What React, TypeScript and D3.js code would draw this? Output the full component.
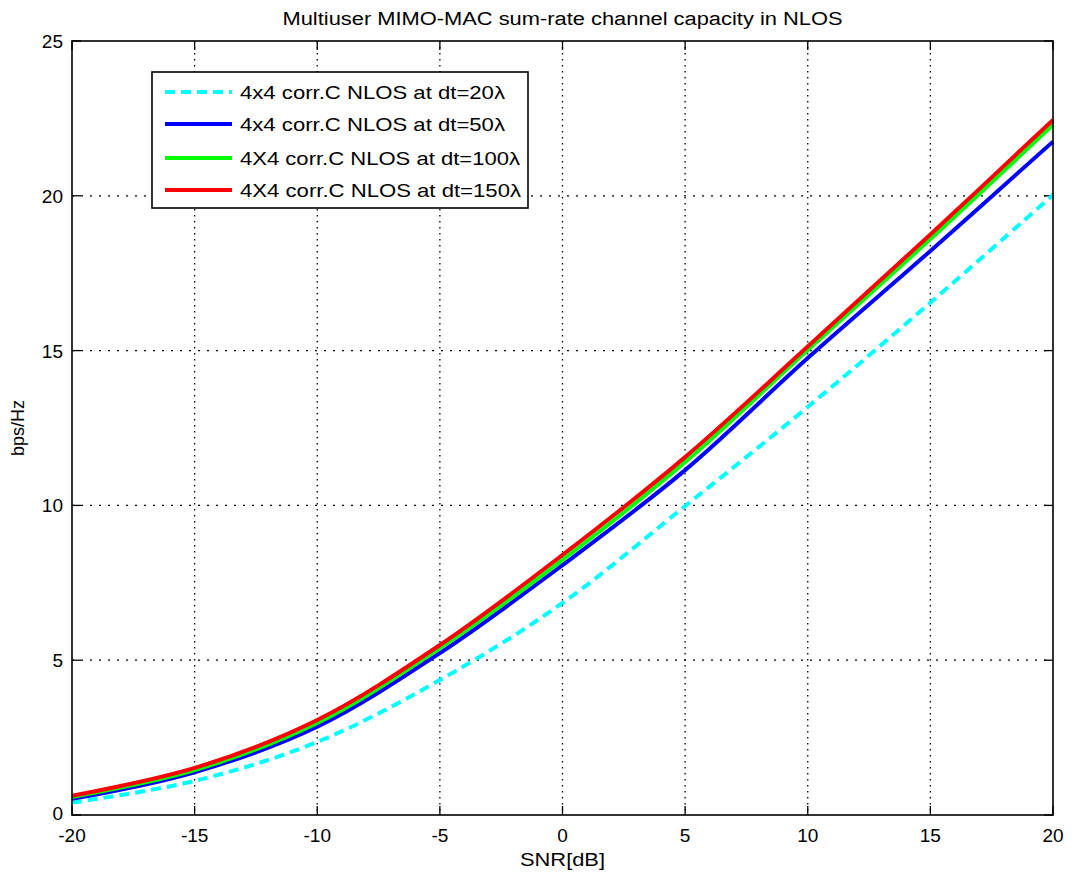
import React from "react";
import * as d3 from "d3";

// SNR sample points (dB)
const snr = [-20, -15, -10, -5, 0, 5, 10, 15, 20];

// Sum-rate capacity (bps/Hz) per inter-user spacing
const cap20 = [0.4, 1.1, 2.36, 4.36, 6.85, 9.98, 13.18, 16.55, 20.03];
const cap50 = [0.52, 1.38, 2.85, 5.23, 8.07, 11.14, 14.76, 18.22, 21.75];
const cap100 = [0.58, 1.45, 2.97, 5.39, 8.24, 11.4, 15.02, 18.6, 22.29];
const cap150 = [0.62, 1.52, 3.07, 5.49, 8.4, 11.56, 15.13, 18.75, 22.45];

const seriesLabels = [
  "4x4 corr.C NLOS at dt=20λ",
  "4x4 corr.C NLOS at dt=50λ",
  "4X4 corr.C NLOS at dt=100λ",
  "4X4 corr.C NLOS at dt=150λ",
];
const labelWidths = [265, 265, 280, 281];
const seriesColors = ["#00ffff", "#0000ff", "#00ff00", "#ff0000"];
const seriesDash = ["10,6", null, null, null];

const xTicks = [-20, -15, -10, -5, 0, 5, 10, 15, 20];
const yTicks = [0, 5, 10, 15, 20, 25];

const W = 1073;
const H = 877;
const M = { left: 72, right: 1053, top: 41, bottom: 815 };

export default function App() {
  const x = d3.scaleLinear().domain([-20, 20]).range([M.left, M.right]);
  const y = d3.scaleLinear().domain([0, 25]).range([M.bottom, M.top]);
  const line = d3
    .line<[number, number]>()
    .x((d) => x(d[0]))
    .y((d) => y(d[1]))
    .curve(d3.curveCatmullRom.alpha(0.5));

  const series = [cap20, cap50, cap100, cap150];
  const font = "'Liberation Sans', Arial, sans-serif";
  const tickLen = 9;

  const legX = 152;
  const legY = 72;
  const legW = 376;
  const legH = 136;
  const rowGap = 32;

  return (
    <svg
      width={W}
      height={H}
      style={{ position: "absolute", left: 0, top: 0, background: "#fff" }}
      fontFamily={font}
    >
      <rect x={0} y={0} width={W} height={H} fill="#fff" />
      {/* dotted grid */}
      <g stroke="#000" strokeWidth={1.3}>
        {xTicks.slice(1, -1).map((t) => (
          <line key={"gx" + t} x1={x(t)} x2={x(t)} y1={M.top} y2={M.bottom} strokeDasharray="1.5,4.5" />
        ))}
        {yTicks.slice(1, -1).map((t) => (
          <line key={"gy" + t} x1={M.left} x2={M.right} y1={y(t)} y2={y(t)} strokeDasharray="2,7" />
        ))}
      </g>
      {/* inward ticks on all sides */}
      <g stroke="#000" strokeWidth={1.3}>
        {xTicks.map((t) => (
          <g key={"tx" + t}>
            <line x1={x(t)} x2={x(t)} y1={M.bottom} y2={M.bottom - tickLen} />
            <line x1={x(t)} x2={x(t)} y1={M.top} y2={M.top + tickLen} />
          </g>
        ))}
        {yTicks.map((t) => (
          <g key={"ty" + t}>
            <line x1={M.left} x2={M.left + tickLen} y1={y(t)} y2={y(t)} />
            <line x1={M.right} x2={M.right - tickLen} y1={y(t)} y2={y(t)} />
          </g>
        ))}
      </g>
      {/* curves */}
      {series.map((vals, i) => (
        <path
          key={"s" + i}
          d={line(snr.map((s, j) => [s, vals[j]] as [number, number])) || ""}
          fill="none"
          stroke={seriesColors[i]}
          strokeWidth={4}
          strokeDasharray={seriesDash[i] || undefined}
        />
      ))}
      {/* frame */}
      <rect
        x={M.left}
        y={M.top}
        width={M.right - M.left}
        height={M.bottom - M.top}
        fill="none"
        stroke="#000"
        strokeWidth={1.6}
      />
      {/* tick labels */}
      <g fontSize={19} fill="#000">
        {xTicks.map((t) => (
          <text key={"lx" + t} x={x(t)} y={M.bottom + 27} textAnchor="middle">
            {t}
          </text>
        ))}
        {yTicks.map((t) => (
          <text key={"ly" + t} x={M.left - 9} y={y(t) + (t === 0 ? 5 : 7)} textAnchor="end">
            {t}
          </text>
        ))}
      </g>
      {/* titles */}
      <text
        x={(M.left + M.right) / 2}
        y={25}
        textAnchor="middle"
        fontSize={18}
        textLength={560}
        lengthAdjust="spacingAndGlyphs"
      >
        Multiuser MIMO-MAC sum-rate channel capacity in NLOS
      </text>
      <text
        x={(M.left + M.right) / 2}
        y={866}
        textAnchor="middle"
        fontSize={18}
        textLength={85}
        lengthAdjust="spacingAndGlyphs"
      >
        SNR[dB]
      </text>
      <text
        transform={`translate(24, ${(M.top + M.bottom) / 2}) rotate(-90)`}
        textAnchor="middle"
        fontSize={18}
      >
        bps/Hz
      </text>
      {/* legend */}
      <rect x={legX} y={legY} width={legW} height={legH} fill="#fff" stroke="#000" strokeWidth={1.6} />
      {seriesLabels.map((lab, i) => {
        const cy = legY + 20 + i * rowGap + (i >= 2 ? 2 : 0);
        return (
          <g key={"lg" + i}>
            <line
              x1={legX + 13}
              x2={legX + 80}
              y1={cy}
              y2={cy}
              stroke={seriesColors[i]}
              strokeWidth={4}
              strokeDasharray={seriesDash[i] || undefined}
            />
            <text
              x={legX + 88}
              y={cy + 7}
              fontSize={19}
              textLength={labelWidths[i]}
              lengthAdjust="spacingAndGlyphs"
            >
              {lab}
            </text>
          </g>
        );
      })}
    </svg>
  );
}
